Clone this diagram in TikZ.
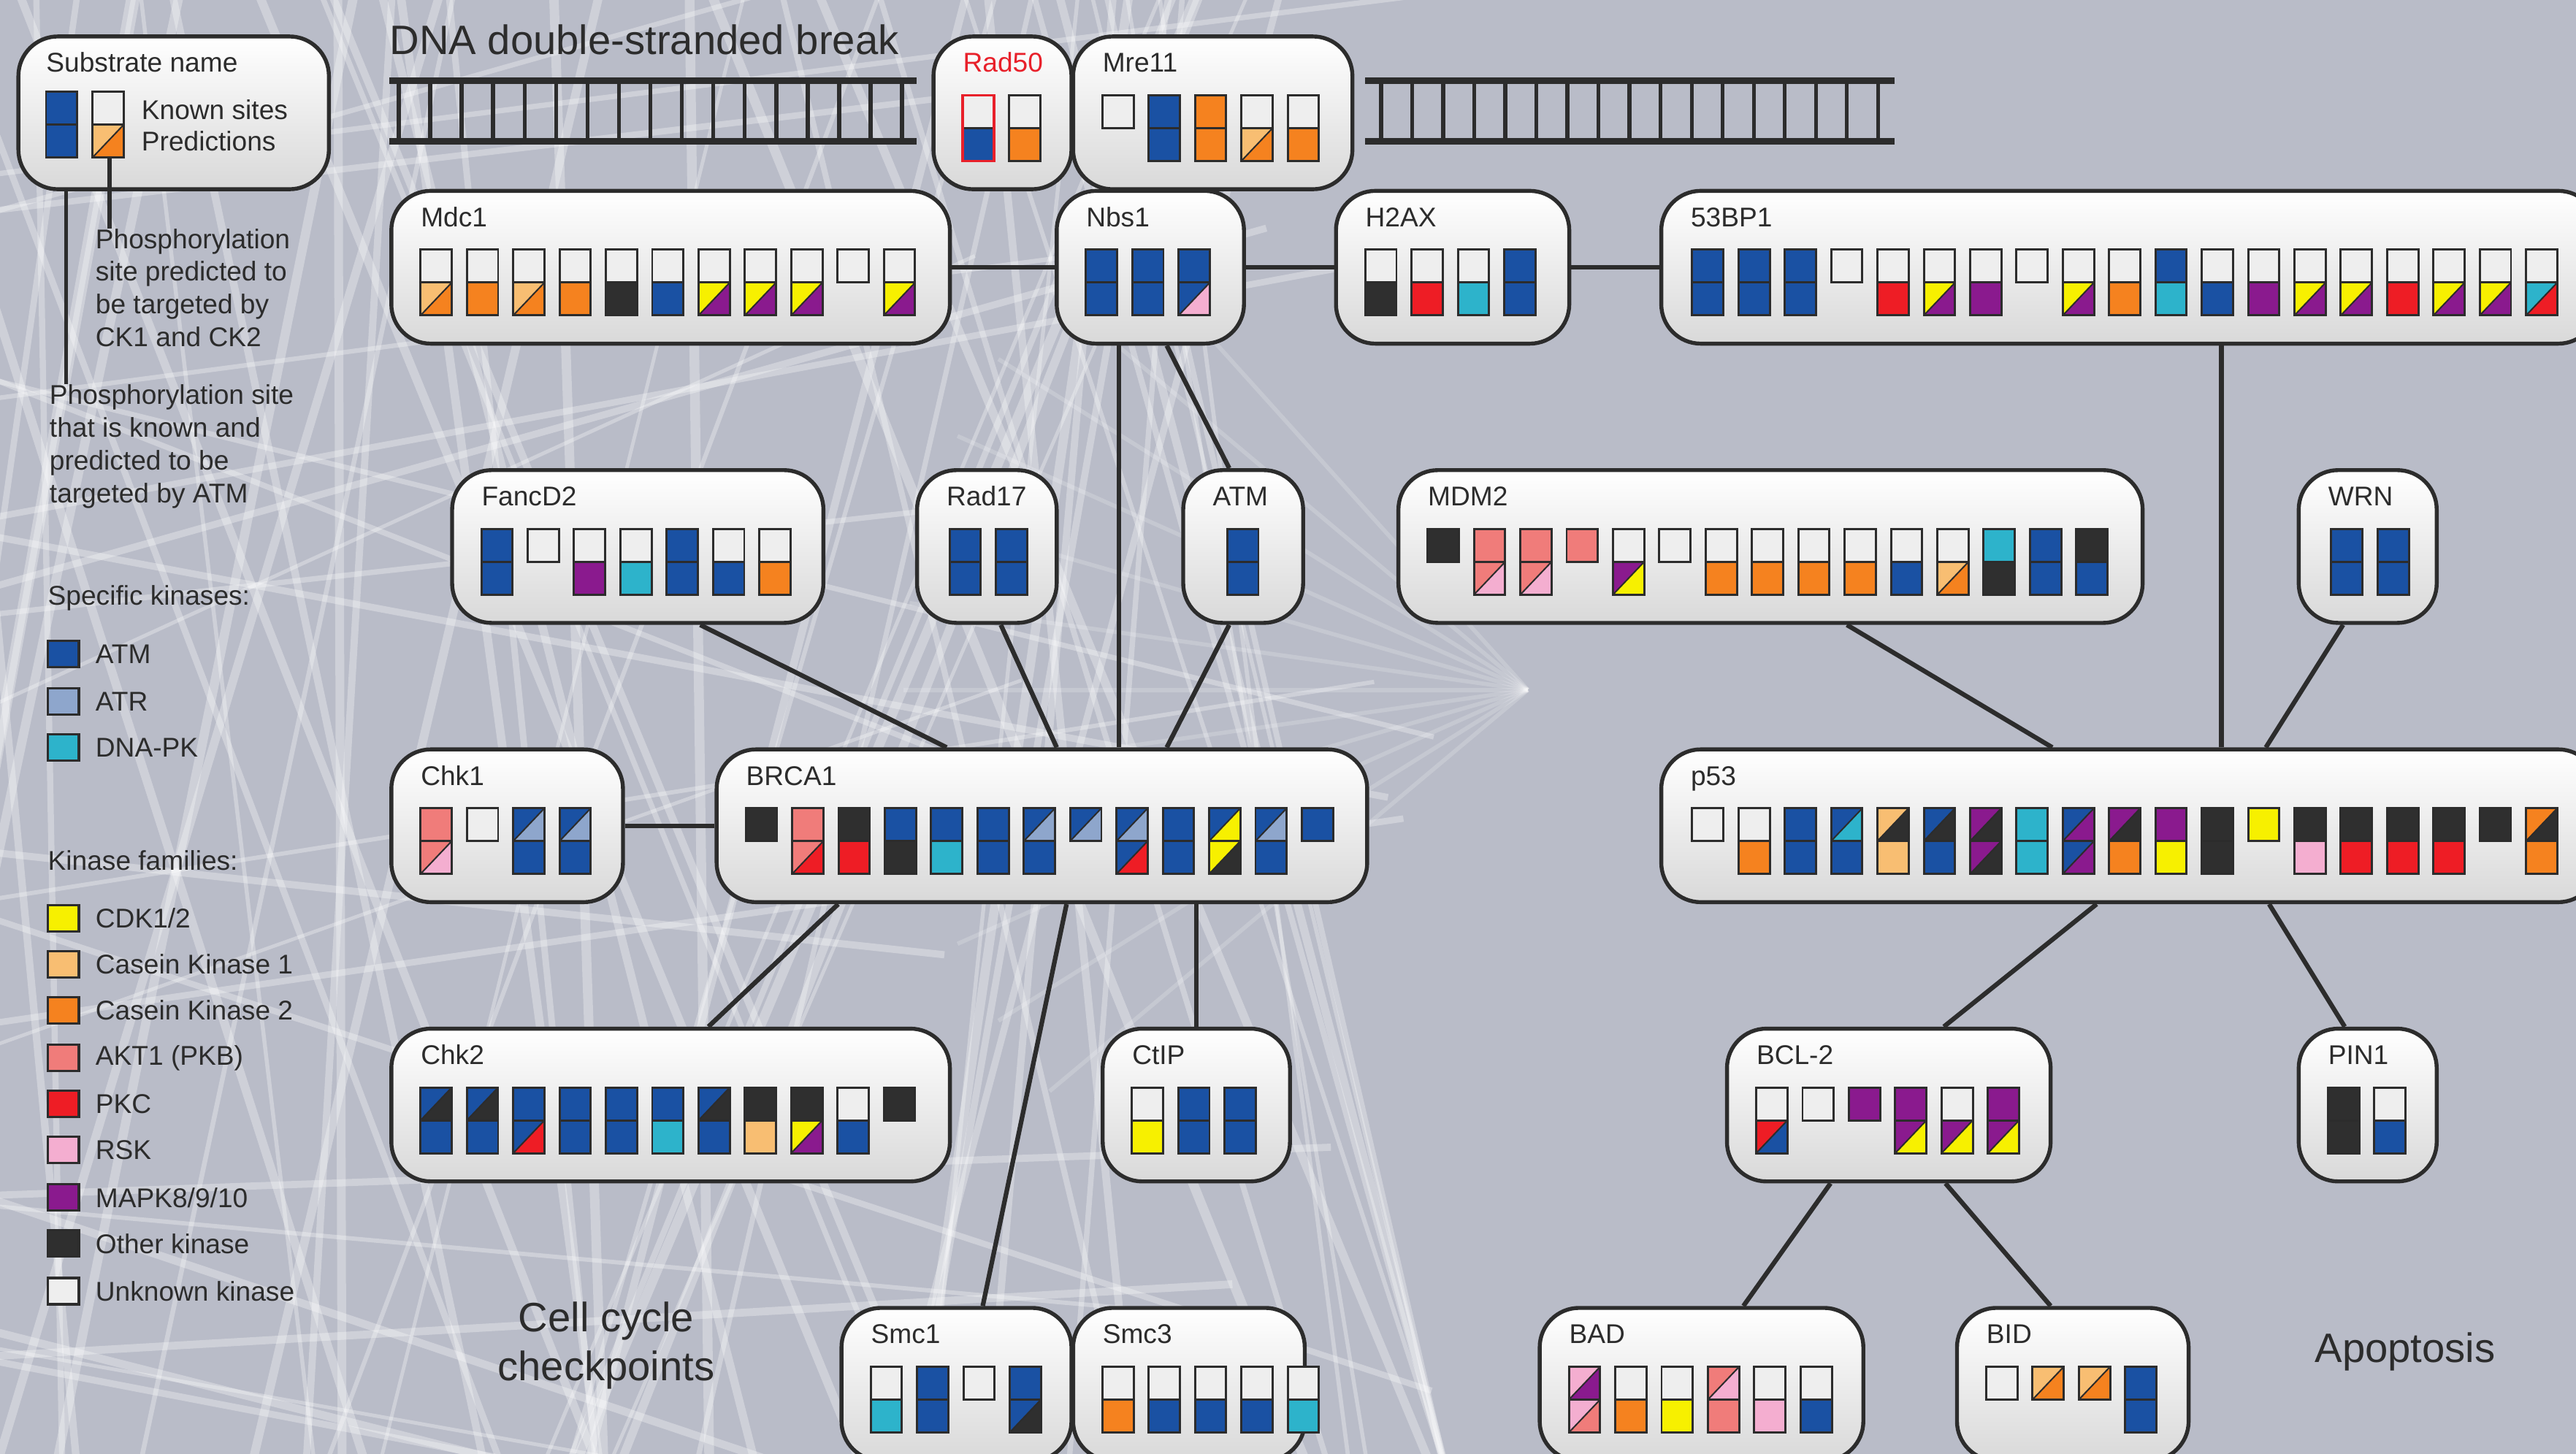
\documentclass[tikz,border=0pt]{standalone}
\usepackage{fontspec}
\setmainfont{Liberation Sans}
\usepackage{ifthen}
\usetikzlibrary{calc}

\definecolor{bg}{HTML}{B9BCC8}
\definecolor{ink}{HTML}{2C2C2C}
\definecolor{labred}{HTML}{E8202A}
\definecolor{cA}{HTML}{1A51A3}
\definecolor{cR}{HTML}{8EA6CC}
\definecolor{cD}{HTML}{2DB3CB}
\definecolor{cY}{HTML}{F7F000}
\definecolor{cC}{HTML}{F8BE72}
\definecolor{cE}{HTML}{F5821F}
\definecolor{cK}{HTML}{F07C7A}
\definecolor{cP}{HTML}{EE1D25}
\definecolor{cS}{HTML}{F4AED0}
\definecolor{cM}{HTML}{8A1A8E}
\definecolor{cO}{HTML}{2F2F2F}
\definecolor{cU}{HTML}{EEEEEE}

% half of a glyph: x y c1 c2 (c1 upper-left, c2 lower-right)
\newcommand\hf[4]{%
  \fill[fill=#3] (#1,#2) rectangle ++(19,20);
  \ifthenelse{\equal{#3}{#4}}{}{%
    \fill[fill=#4] (#1+19,#2) -- ++(0,20) -- ++(-19,0) -- cycle;
    \draw[gdiag] (#1,#2+20) -- ++(19,-20);}%
}
% glyph: x y ta tb ba bb  (ba = N : short glyph)
\newcommand\gl[6]{%
  \hf{#1}{#2}{#3}{#4}%
  \ifthenelse{\equal{#5}{N}}{%
    \draw[gout] (#1,#2) rectangle ++(19,20);}{%
    \hf{#1}{#2+20}{#5}{#6}%
    \draw[gout] (#1,#2) rectangle ++(19,40);
    \draw[gout] (#1,#2+20) -- ++(19,0);}%
}
\newcommand\glyphs[3]{%
  \foreach \ta/\tb/\ba/\bb [count=\i from 0] in {#3} {%
    \pgfmathsetmacro\gx{#1+\i*28.2}%
    \gl{\gx}{#2}{\ta}{\tb}{\ba}{\bb}%
  }%
}
% substrate box: [glyph offset] name x y width label glyphs
\newcommand\Sub[7][19]{%
  \node[subbox, minimum width=#5pt, anchor=north west] (#2) at (#3,#4) {};
  \node[lab] (#2-l) at (#3+19,#4+23) {#6};
  \glyphs{#3+#1}{#4+37}{#7}%
}

\begin{document}
\begin{tikzpicture}[x=1pt,y=-1pt,
  subbox/.style={draw=ink, line width=2.4pt, rounded corners=24pt,
    top color=white, bottom color=black!15, minimum height=93pt, inner sep=0pt},
  lab/.style={anchor=base west, inner sep=0pt, text=ink,
    font=\fontsize{16.5}{20}\selectfont},
  gout/.style={draw=ink, line width=1.3pt},
  gdiag/.style={draw=ink, line width=0.9pt},
  conn/.style={draw=ink, line width=2.8pt},
  rail/.style={draw=ink, line width=4pt},
  rung/.style={draw=ink, line width=2.4pt},
  streak/.style={white, opacity=0.3},
  lsq/.style={draw=ink, line width=1.5pt, minimum width=19pt, minimum height=16pt, inner sep=0pt},
  ltxt/.style={anchor=west, inner sep=0pt, text=ink, font=\fontsize{16.5}{20}\selectfont},
  lblock/.style={anchor=north west, inner sep=0pt, align=left, text=ink, font=\fontsize{16.5}{20}\selectfont},
  big/.style={inner sep=0pt, text=ink, font=\fontsize{25}{30}\selectfont, align=center}
]
\useasboundingbox (0,0) rectangle (1568,885);
\clip (0,0) rectangle (1568,885);
\fill[bg] (0,0) rectangle (1568,885);

% background streaks
\pgfmathsetseed{12}
\foreach \i in {1,...,55}{
  \pgfmathsetmacro\xa{rnd*900-80}
  \pgfmathsetmacro\xb{min(880,max(-80,\xa+(rnd-0.5)*800))}
  \pgfmathsetmacro\lw{2+rnd*4}
  \draw[streak, line width=\lw pt] (\xa,-10) -- (\xb,895);
}
\foreach \i in {1,...,24}{
  \pgfmathsetmacro\ya{rnd*900}
  \pgfmathsetmacro\yb{\ya+(rnd-0.5)*600}
  \pgfmathsetmacro\xe{550+rnd*350}
  \pgfmathsetmacro\lw{2+rnd*3}
  \draw[streak, line width=\lw pt] (-10,\ya) -- (\xe,\yb);
}
\foreach \a in {140,148,...,228}{
  \draw[white, opacity=0.18, line width=2.5pt] (930,420) -- ++(\a:380);
}

% title and DNA
\node[big, anchor=west] (title) at (237,24) {DNA double-stranded break};
\draw[rail] (237,49) -- (558,49);
\draw[rail] (237,86) -- (558,86);
\foreach \k in {0,...,16}{\draw[rung] (242.7+\k*19.15,49) -- (242.7+\k*19.15,86);}
\draw[rail] (831,49) -- (1153,49);
\draw[rail] (831,86) -- (1153,86);
\foreach \k in {0,...,16}{\draw[rung] (840.7+\k*18.9,49) -- (840.7+\k*18.9,86);}

% legend box
\node[subbox, minimum width=189pt, anchor=north west] (leg) at (10,21) {};
\node[lab] (leg-l) at (28,44) {Substrate name};
\glyphs{28}{56}{cA/cA/cA/cA,cU/cU/cC/cE}
\node[ltxt] (known) at (86,67) {Known sites};
\node[ltxt] (pred) at (86,86) {Predictions};
\coordinate (lg2) at (66.7,96);
\node[lblock] (cktxt) at (58,139) {Phosphorylation\\site predicted to\\be targeted by\\CK1 and CK2};
\node[lblock] (atmtxt) at (30,234) {Phosphorylation site\\that is known and\\predicted to be\\targeted by ATM};
\draw[conn, line width=2.3pt] ([xshift=-65.5pt]leg.south) -- ([xshift=-65.5pt]leg.south |- atmtxt.north);
\draw[conn, line width=2.3pt] (lg2) -- (lg2 |- cktxt.north);

\node[ltxt] (spec) at (29,364) {Specific kinases:};
\node[lsq, fill=cA] (qA) at (38.5,398) {}; \node[ltxt] (tA) at (58,398) {ATM};
\node[lsq, fill=cR] (qR) at (38.5,427) {}; \node[ltxt] (tR) at (58,427) {ATR};
\node[lsq, fill=cD] (qD) at (38.5,455) {}; \node[ltxt] (tD) at (58,455) {DNA-PK};
\node[ltxt] (fam) at (29,524) {Kinase families:};
\node[lsq, fill=cY] (qY) at (38.5,559) {}; \node[ltxt] (tY) at (58,559) {CDK1/2};
\node[lsq, fill=cC] (qC) at (38.5,587) {}; \node[ltxt] (tC) at (58,587) {Casein Kinase 1};
\node[lsq, fill=cE] (qE) at (38.5,615) {}; \node[ltxt] (tE) at (58,615) {Casein Kinase 2};
\node[lsq, fill=cK] (qK) at (38.5,644) {}; \node[ltxt] (tK) at (58,644) {AKT1 (PKB)};
\node[lsq, fill=cP] (qP) at (38.5,672) {}; \node[ltxt] (tP) at (58,672) {PKC};
\node[lsq, fill=cS] (qS) at (38.5,700) {}; \node[ltxt] (tS) at (58,700) {RSK};
\node[lsq, fill=cM] (qM) at (38.5,729) {}; \node[ltxt] (tM) at (58,729) {MAPK8/9/10};
\node[lsq, fill=cO] (qO) at (38.5,757) {}; \node[ltxt] (tO) at (58,757) {Other kinase};
\node[lsq, fill=cU] (qU) at (38.5,786) {}; \node[ltxt] (tU) at (58,786) {Unknown kinase};

% row 1
\Sub{rad50}{567}{21}{84}{\textcolor{labred}{Rad50}}{cU/cU/cA/cA,cU/cU/cE/cE}
\draw[labred, line width=1.6pt] (586,58) rectangle ++(19,40);
\Sub{mre11}{652}{21}{170}{Mre11}{cU/cU/N/N,cA/cA/cA/cA,cE/cE/cE/cE,cU/cU/cC/cE,cU/cU/cE/cE}

% row 2
\Sub{mdc1}{237}{115}{340}{Mdc1}{cU/cU/cC/cE,cU/cU/cE/cE,cU/cU/cC/cE,cU/cU/cE/cE,cU/cU/cO/cO,cU/cU/cA/cA,cU/cU/cY/cM,cU/cU/cY/cM,cU/cU/cY/cM,cU/cU/N/N,cU/cU/cY/cM}
\Sub{nbs1}{642}{115}{114}{Nbs1}{cA/cA/cA/cA,cA/cA/cA/cA,cA/cA/cA/cS}
\Sub{h2ax}{812}{115}{142}{H2AX}{cU/cU/cO/cO,cU/cU/cP/cP,cU/cU/cD/cD,cA/cA/cA/cA}
\Sub[20]{bp53}{1010}{115}{570}{53BP1}{cA/cA/cA/cA,cA/cA/cA/cA,cA/cA/cA/cA,cU/cU/N/N,cU/cU/cP/cP,cU/cU/cY/cM,cU/cU/cM/cM,cU/cU/N/N,cU/cU/cY/cM,cU/cU/cE/cE,cA/cA/cD/cD,cU/cU/cA/cA,cU/cU/cM/cM,cU/cU/cY/cM,cU/cU/cY/cM,cU/cU/cP/cP,cU/cU/cY/cM,cU/cU/cY/cM,cU/cU/cD/cP}

% row 3
\Sub{fancd2}{274}{285}{226}{FancD2}{cA/cA/cA/cA,cU/cU/N/N,cU/cU/cM/cM,cU/cU/cD/cD,cA/cA/cA/cA,cU/cU/cA/cA,cU/cU/cE/cE}
\Sub[21]{rad17}{557}{285}{85}{Rad17}{cA/cA/cA/cA,cA/cA/cA/cA}
\Sub[28]{atm}{719}{285}{73}{ATM}{cA/cA/cA/cA}
\Sub{mdm2}{850}{285}{453}{MDM2}{cO/cO/N/N,cK/cK/cK/cS,cK/cK/cK/cS,cK/cK/N/N,cU/cU/cM/cY,cU/cU/N/N,cU/cU/cE/cE,cU/cU/cE/cE,cU/cU/cE/cE,cU/cU/cE/cE,cU/cU/cA/cA,cU/cU/cC/cE,cD/cD/cO/cO,cA/cA/cA/cA,cO/cO/cA/cA}
\Sub[21]{wrn}{1398}{285}{84}{WRN}{cA/cA/cA/cA,cA/cA/cA/cA}

% row 4
\Sub{chk1}{237}{455}{141}{Chk1}{cK/cK/cK/cS,cU/cU/N/N,cA/cR/cA/cA,cA/cR/cA/cA}
\Sub{brca1}{435}{455}{396}{BRCA1}{cO/cO/N/N,cK/cK/cK/cP,cO/cO/cP/cP,cA/cA/cO/cO,cA/cA/cD/cD,cA/cA/cA/cA,cA/cR/cA/cA,cA/cR/N/N,cA/cR/cA/cP,cA/cA/cA/cA,cA/cY/cY/cO,cA/cR/cA/cA,cA/cA/N/N}
\Sub[20]{p53}{1010}{455}{570}{p53}{cU/cU/N/N,cU/cU/cE/cE,cA/cA/cA/cA,cA/cD/cA/cA,cC/cO/cC/cC,cA/cO/cA/cA,cM/cO/cM/cO,cD/cD/cD/cD,cA/cM/cA/cM,cM/cO/cE/cE,cM/cM/cY/cY,cO/cO/cO/cO,cY/cY/N/N,cO/cO/cS/cS,cO/cO/cP/cP,cO/cO/cP/cP,cO/cO/cP/cP,cO/cO/N/N,cE/cO/cE/cE}

% row 5
\Sub{chk2}{237}{625}{340}{Chk2}{cA/cO/cA/cA,cA/cO/cA/cA,cA/cA/cA/cP,cA/cA/cA/cA,cA/cA/cA/cA,cA/cA/cD/cD,cA/cO/cA/cA,cO/cO/cC/cC,cO/cO/cY/cM,cU/cU/cA/cA,cO/cO/N/N}
\Sub{ctip}{670}{625}{114}{CtIP}{cU/cU/cY/cY,cA/cA/cA/cA,cA/cA/cA/cA}
\Sub{bcl2}{1050}{625}{197}{BCL-2}{cU/cU/cP/cA,cU/cU/N/N,cM/cM/N/N,cM/cM/cM/cY,cU/cU/cM/cY,cM/cM/cM/cY}
\Sub{pin1}{1398}{625}{84}{PIN1}{cO/cO/cO/cO,cU/cU/cA/cA}

% row 6
\Sub{smc1}{511}{795}{140}{Smc1}{cU/cU/cD/cD,cA/cA/cA/cA,cU/cU/N/N,cA/cA/cA/cO}
\Sub{smc3}{652}{795}{141}{Smc3}{cU/cU/cE/cE,cU/cU/cA/cA,cU/cU/cA/cA,cU/cU/cA/cA,cU/cU/cD/cD}
\Sub{bad}{936}{795}{197}{BAD}{cS/cM/cS/cK,cU/cU/cE/cE,cU/cU/cY/cY,cK/cS/cK/cK,cU/cU/cS/cS,cU/cU/cA/cA}
\Sub{bid}{1190}{795}{141}{BID}{cU/cU/N/N,cC/cE/N/N,cC/cE/N/N,cA/cA/cA/cA}

% connectors
\draw[conn] (mdc1.east) -- (nbs1.west);
\draw[conn] (nbs1.east) -- (h2ax.west);
\draw[conn] (h2ax.east) -- (bp53.west);
\draw[conn] ([xshift=-19pt]nbs1.south) -- ([xshift=47pt]brca1.north);
\draw[conn] ([xshift=10pt]nbs1.south) -- ([xshift=-8.5pt]atm.north);
\draw[conn] ([xshift=-8.5pt]atm.south) -- ([xshift=76pt]brca1.north);
\draw[conn] ([xshift=8.5pt]rad17.south) -- ([xshift=9pt]brca1.north);
\draw[conn] ([xshift=38pt]fancd2.south) -- ([xshift=-58pt]brca1.north);
\draw[conn] (chk1.east) -- (brca1.west);
\draw[conn] ([xshift=-124pt]brca1.south) -- ([xshift=23pt]chk2.north);
\draw[conn] ([xshift=15pt]brca1.south) -- ([xshift=16pt]smc1.north);
\draw[conn] ([xshift=94pt]brca1.south) -- (ctip.north);
\draw[conn] ([xshift=46.5pt]mdm2.south) -- ([xshift=-47pt]p53.north);
\draw[conn] ([xshift=56pt]bp53.south) -- ([xshift=56pt]p53.north);
\draw[conn] ([xshift=-15pt]wrn.south) -- ([xshift=83pt]p53.north);
\draw[conn] ([xshift=-20pt]p53.south) -- ([xshift=33.5pt]bcl2.north);
\draw[conn] ([xshift=85pt]p53.south) -- ([xshift=-14pt]pin1.north);
\draw[conn] ([xshift=-35.5pt]bcl2.south) -- ([xshift=25.5pt]bad.north);
\draw[conn] ([xshift=34.5pt]bcl2.south) -- ([xshift=-13.5pt]bid.north);

% captions
\node[big] (ccc) at (369,819) {Cell cycle\\checkpoints};
\node[big] (apo) at (1464,823) {Apoptosis};
\end{tikzpicture}
\end{document}
